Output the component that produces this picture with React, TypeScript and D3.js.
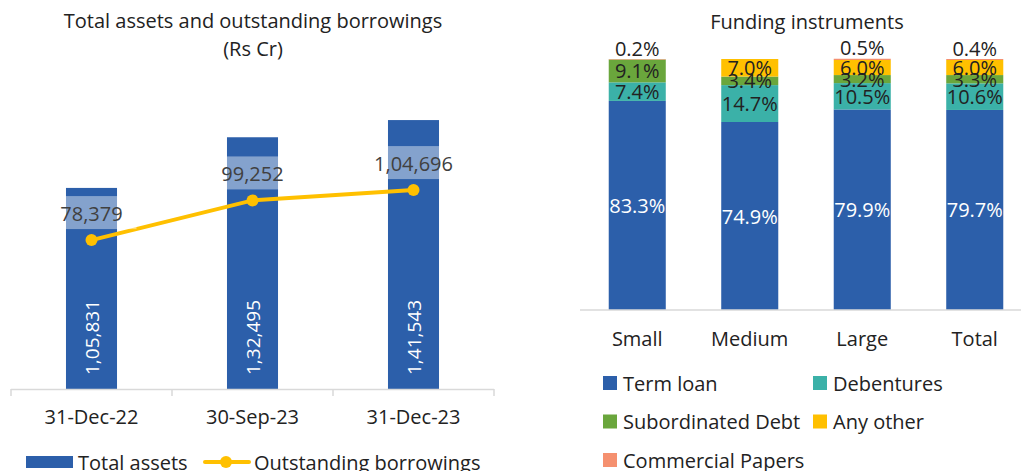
import React from "react";
import * as d3 from "d3";

const dates = ["31-Dec-22", "30-Sep-23", "31-Dec-23"];
const totalAssets = [105831, 132495, 141543];
const borrowings = [78379, 99252, 104696];
const assetLabels = ["1,05,831", "1,32,495", "1,41,543"];
const borrowLabels = ["78,379", "99,252", "1,04,696"];

const sizes = ["Small", "Medium", "Large", "Total"];
const instruments = ["Term loan", "Debentures", "Subordinated Debt", "Any other", "Commercial Papers"];
const termLoan = [83.3, 74.9, 79.9, 79.7];
const debentures = [7.4, 14.7, 10.5, 10.6];
const subDebt = [9.1, 3.4, 3.2, 3.3];
const anyOther = [0, 7.0, 6.0, 6.0];
const commercialPapers = [0.2, 0, 0.5, 0.4];

const colors = ["#2C5FAA", "#3BB1A8", "#6AA63C", "#FFC000", "#F5906F"];
const FONT = "'Open Sans', sans-serif";
const TXT = "#222";

export default function App() {
  // Left chart
  const x = d3.scaleBand<string>().domain(dates).range([11, 494]);
  const y = d3.scaleLinear().domain([0, 160000]).range([389, 85]);
  const bw = x.bandwidth() * 0.317;
  const cx = (d: string) => (x(d) as number) + x.bandwidth() / 2;
  const linePts: [number, number][] = dates.map((d, i) => [cx(d), y(borrowings[i])]);
  const line = d3.line();

  // Right chart
  const xr = d3.scaleBand<string>().domain(sizes).range([581, 1031]);
  const yr = d3.scaleLinear().domain([0, 100]).range([310, 59]);
  const bwr = xr.bandwidth() * 0.507;
  const cxr = (d: string) => (xr(d) as number) + xr.bandwidth() / 2;
  const seriesArr = [termLoan, debentures, subDebt, anyOther, commercialPapers];
  const table = sizes.map((s, i) => {
    const row: any = { size: s };
    instruments.forEach((k, j) => (row[k] = seriesArr[j][i]));
    return row;
  });
  const stacked = d3.stack<any>().keys(instruments)(table);

  const ticks = [...dates.map((d) => x(d) as number), 494];

  return (
    <svg width={1021} height={471} style={{ position: "absolute", left: 0, top: 0, fontFamily: FONT }}>
      <rect width={1021} height={471} fill="#fff" />
      {/* Left title */}
      <text x={253} y={20} textAnchor="middle" dominantBaseline="central" fontSize={20} fill={TXT}>
        Total assets and outstanding borrowings
      </text>
      <text x={253} y={48} textAnchor="middle" dominantBaseline="central" fontSize={20} fill={TXT}>
        (Rs Cr)
      </text>
      {/* bars */}
      {dates.map((d, i) => (
        <rect key={d} x={cx(d) - bw / 2} y={y(totalAssets[i])} width={bw} height={y(0) - y(totalAssets[i])} fill={colors[0]} />
      ))}
      {dates.map((d, i) => (
        <text
          key={"al" + d}
          transform={`translate(${cx(d)},${y(0) - 14}) rotate(-90)`}
          textAnchor="start"
          dominantBaseline="central"
          fontSize={19}
          fill="#fff"
        >
          {assetLabels[i]}
        </text>
      ))}
      {/* axis */}
      <line x1={11} x2={494} y1={389.5} y2={389.5} stroke="#d9d9d9" strokeWidth={1.5} />
      {ticks.map((t, i) => (
        <line key={i} x1={t} x2={t} y1={389} y2={396} stroke="#d9d9d9" strokeWidth={1.5} />
      ))}
      {dates.map((d) => (
        <text key={"c" + d} x={cx(d)} y={416} textAnchor="middle" dominantBaseline="central" fontSize={20} fill={TXT}>
          {d}
        </text>
      ))}
      {/* line */}
      <path d={line(linePts) || ""} fill="none" stroke="#FFC000" strokeWidth={4} />
      {linePts.map((p, i) => (
        <circle key={i} cx={p[0]} cy={p[1]} r={6} fill="#FFC000" />
      ))}
      {linePts.map((p, i) => (
        <g key={"bl" + i}>
          <rect x={p[0] - 45} y={p[1] - 44} width={90} height={33} fill="#fff" opacity={0.42} />
          <text x={p[0]} y={p[1] - 27} textAnchor="middle" dominantBaseline="central" fontSize={20} fill="#404040">
            {borrowLabels[i]}
          </text>
        </g>
      ))}
      {/* left legend */}
      <rect x={26} y={456} width={47} height={12} fill={colors[0]} />
      <text x={78} y={462} dominantBaseline="central" fontSize={20} fill={TXT}>
        Total assets
      </text>
      <line x1={205} x2={249} y1={462} y2={462} stroke="#FFC000" strokeWidth={4} strokeLinecap="round" />
      <circle cx={226} cy={462} r={6} fill="#FFC000" />
      <text x={254} y={462} dominantBaseline="central" fontSize={20} fill={TXT}>
        Outstanding borrowings
      </text>

      {/* Right title */}
      <text x={807} y={21} textAnchor="middle" dominantBaseline="central" fontSize={20} fill={TXT}>
        Funding instruments
      </text>
      {stacked.map((ser, si) =>
        ser.map((seg, ci) => {
          const h = yr(seg[0]) - yr(seg[1]);
          if (h <= 0) return null;
          return (
            <rect
              key={si + "-" + ci}
              x={cxr(sizes[ci]) - bwr / 2}
              y={yr(seg[1])}
              width={bwr}
              height={h}
              fill={colors[si]}
            />
          );
        })
      )}
      {stacked.map((ser, si) =>
        ser.map((seg, ci) => {
          const v = seriesArr[si][ci];
          if (v <= 0) return null;
          const isTop = si === 4;
          const yy = isTop ? yr(seg[1]) - 11 : (yr(seg[0]) + yr(seg[1])) / 2;
          return (
            <text
              key={"l" + si + "-" + ci}
              x={cxr(sizes[ci])}
              y={yy}
              textAnchor="middle"
              dominantBaseline="central"
              fontSize={20}
              fill={si === 0 ? "#fff" : TXT}
            >
              {v.toFixed(1) + "%"}
            </text>
          );
        })
      )}
      <line x1={580} x2={1021} y1={310} y2={310} stroke="#d9d9d9" strokeWidth={1.5} />
      {sizes.map((s) => (
        <text key={"s" + s} x={cxr(s)} y={338} textAnchor="middle" dominantBaseline="central" fontSize={20} fill={TXT}>
          {s}
        </text>
      ))}
      {/* right legend */}
      {instruments.map((k, i) => {
        const col = i % 2;
        const row = Math.floor(i / 2);
        const lx = col === 0 ? 603 : 813;
        const ly = 383 + row * 38.5;
        return (
          <g key={k}>
            <rect x={lx} y={ly - 7} width={14} height={14} fill={colors[i]} />
            <text x={lx + 20} y={ly} dominantBaseline="central" fontSize={20} fill={TXT}>
              {k}
            </text>
          </g>
        );
      })}
    </svg>
  );
}
